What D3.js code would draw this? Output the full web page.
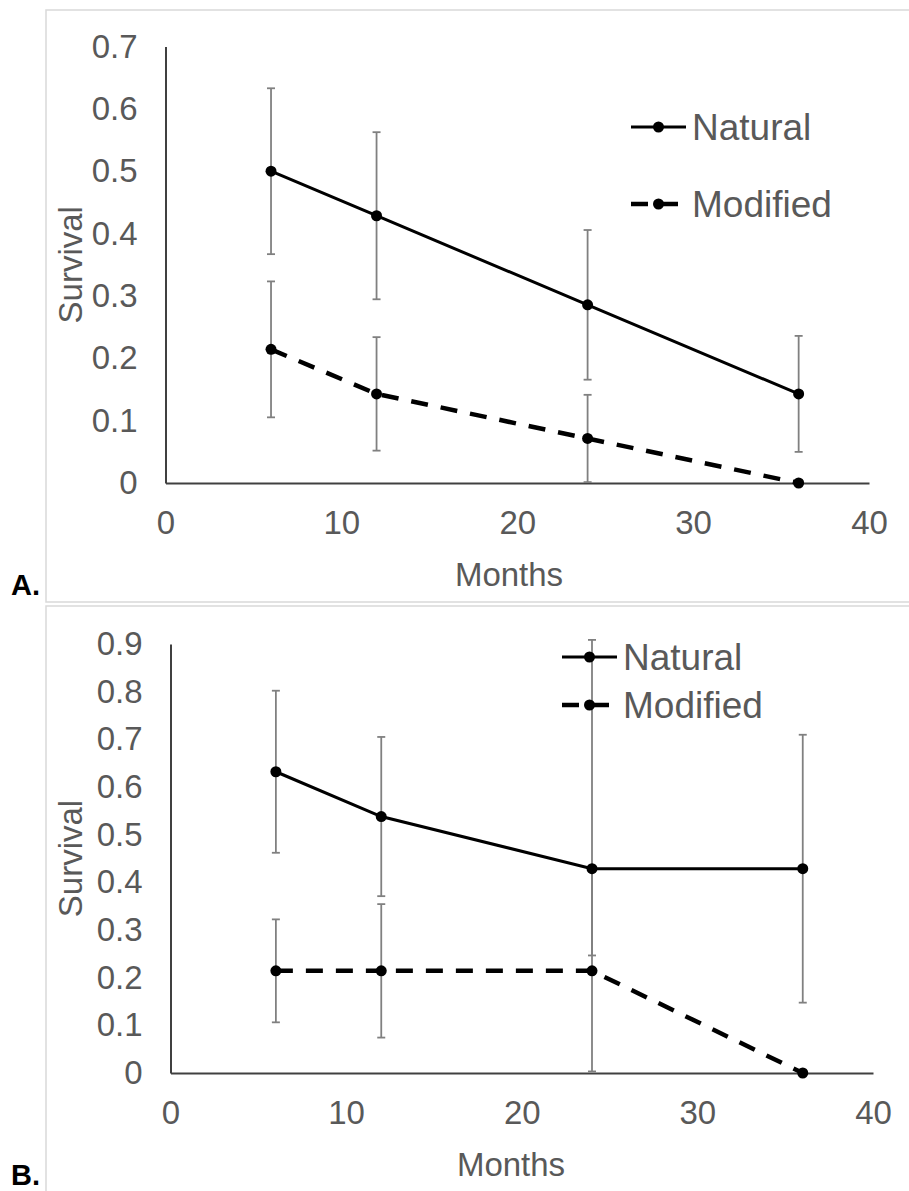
<!DOCTYPE html>
<html>
<head>
<meta charset="utf-8">
<script src="https://cdn.jsdelivr.net/npm/d3@7"></script>
<style>
  body { margin: 0; background: #fff; }
  svg { display: block; font-family: "Liberation Sans", Arial, sans-serif; }
</style>
</head>
<body>
<div class="svg-container"></div>
<script>
// months sampled
var months = [6, 12, 24, 36];

// panel A values and error bars (plus / minus)
var aNatural = [0.5, 0.4286, 0.2857, 0.1429];
var aNaturalUp = [0.133, 0.134, 0.12, 0.093];
var aNaturalDown = [0.133, 0.134, 0.12, 0.093];
var aModified = [0.2143, 0.1429, 0.0714, 0];
var aModifiedUp = [0.109, 0.091, 0.07, 0];
var aModifiedDown = [0.109, 0.091, 0.07, 0];

// panel B values and error bars (plus / minus)
var bNatural = [0.632, 0.538, 0.4286, 0.4286];
var bNaturalUp = [0.17, 0.167, 0.48, 0.281];
var bNaturalDown = [0.17, 0.167, 0.182, 0.281];
var bModified = [0.2143, 0.2143, 0.2143, 0];
var bModifiedUp = [0.108, 0.14, 0.211, 0];
var bModifiedDown = [0.108, 0.14, 0.211, 0];

var xTicks = [0, 10, 20, 30, 40];
var aYTicks = [0, 0.1, 0.2, 0.3, 0.4, 0.5, 0.6, 0.7];
var bYTicks = [0, 0.1, 0.2, 0.3, 0.4, 0.5, 0.6, 0.7, 0.8, 0.9];

var W = 909, H = 1191;
var textColor = "#595959";

var svg = d3.select(".svg-container").append("svg")
    .attr("width", W)
    .attr("height", H);

// panel frames
svg.append("rect")
    .attr("x", 46).attr("y", 10)
    .attr("width", W + 10).attr("height", 592)
    .attr("fill", "none").attr("stroke", "#d9d9d9").attr("stroke-width", 1.5);
svg.append("rect")
    .attr("x", 46).attr("y", 606)
    .attr("width", W + 10).attr("height", H)
    .attr("fill", "none").attr("stroke", "#d9d9d9").attr("stroke-width", 1.5);

function fmtY(d) {
    return d === 0 ? "0" : d3.format(".1f")(d);
}

function drawPanel(p) {
    var g = svg.append("g");

    var x = d3.scaleLinear().domain([0, 40]).range([p.left, p.right]);
    var y = d3.scaleLinear().domain([0, p.yMax]).range([p.bottom, p.top]);

    // y axis
    var ya = g.append("g")
        .attr("transform", "translate(" + p.left + ",0)")
        .call(d3.axisLeft(y).tickValues(p.yTicks).tickFormat(fmtY)
            .tickSize(0).tickSizeOuter(0).tickPadding(28));
    // x axis
    var xa = g.append("g")
        .attr("transform", "translate(0," + p.bottom + ")")
        .call(d3.axisBottom(x).tickValues(xTicks).tickFormat(d3.format("d"))
            .tickSize(0).tickSizeOuter(0).tickPadding(28));

    [ya, xa].forEach(function (a) {
        a.select(".domain").attr("stroke", "#404040").attr("stroke-width", 2);
        a.selectAll("text")
            .attr("fill", textColor)
            .style("font-size", "33px")
            .style("font-family", "'Liberation Sans', Arial, sans-serif");
    });

    // axis titles
    g.append("text")
        .attr("x", p.monthsX).attr("y", p.bottom + 103)
        .attr("text-anchor", "middle")
        .attr("fill", textColor)
        .style("font-size", "33px")
        .text("Months");

    g.append("text")
        .attr("transform", "translate(82," + ((p.top + p.bottom) / 2) + ") rotate(-90)")
        .attr("text-anchor", "middle")
        .attr("fill", textColor)
        .style("font-size", "33px")
        .text("Survival");

    var series = [
        {name: "Natural", values: p.natural, up: p.naturalUp, down: p.naturalDown, dash: null, width: 3},
        {name: "Modified", values: p.modified, up: p.modifiedUp, down: p.modifiedDown, dash: "17,13", width: 4.5}
    ];

    // error bars
    series.forEach(function (s) {
        var pts = months.map(function (m, i) {
            return {m: m, hi: s.values[i] + s.up[i], lo: Math.max(0, s.values[i] - s.down[i]), e: s.up[i] + s.down[i]};
        }).filter(function (d) { return d.e > 0; });

        var eb = g.append("g").attr("stroke", "#808080").attr("stroke-width", 1.8);
        eb.selectAll(".stem").data(pts).enter().append("line")
            .attr("x1", function (d) { return x(d.m); })
            .attr("x2", function (d) { return x(d.m); })
            .attr("y1", function (d) { return y(d.hi); })
            .attr("y2", function (d) { return y(d.lo); });
        ["hi", "lo"].forEach(function (k) {
            eb.selectAll(".cap-" + k).data(pts).enter().append("line")
                .attr("x1", function (d) { return x(d.m) - 4; })
                .attr("x2", function (d) { return x(d.m) + 4; })
                .attr("y1", function (d) { return y(d[k]); })
                .attr("y2", function (d) { return y(d[k]); });
        });
    });

    var line = d3.line()
        .x(function (d, i) { return x(months[i]); })
        .y(function (d) { return y(d); });

    series.forEach(function (s) {
        g.append("path")
            .attr("d", line(s.values))
            .attr("fill", "none")
            .attr("stroke", "#000")
            .attr("stroke-width", s.width)
            .attr("stroke-dasharray", s.dash);
        g.selectAll(null).data(s.values).enter().append("circle")
            .attr("cx", function (d, i) { return x(months[i]); })
            .attr("cy", function (d) { return y(d); })
            .attr("r", 5.5)
            .attr("fill", "#000");
    });

    // legend
    series.forEach(function (s, i) {
        var ly = p.legendY[i];
        g.append("line")
            .attr("x1", p.legendX).attr("x2", p.legendX + 55)
            .attr("y1", ly).attr("y2", ly)
            .attr("stroke", "#000")
            .attr("stroke-width", s.width)
            .attr("stroke-dasharray", s.dash);
        g.append("circle")
            .attr("cx", p.legendX + 27.5).attr("cy", ly)
            .attr("r", 5.5).attr("fill", "#000");
        g.append("text")
            .attr("x", p.legendX + 61).attr("y", ly + 13)
            .attr("fill", textColor)
            .style("font-size", "37px")
            .text(s.name);
    });

    svg.append("text")
        .attr("x", 11).attr("y", p.letterY)
        .attr("fill", "#000")
        .style("font-size", "29px")
        .style("font-weight", "bold")
        .text(p.letter);
}

drawPanel({
    letter: "A.", letterY: 595,
    left: 165.5, right: 869, top: 46.5, bottom: 483, yMax: 0.7, yTicks: aYTicks,
    natural: aNatural, naturalUp: aNaturalUp, naturalDown: aNaturalDown,
    modified: aModified, modifiedUp: aModifiedUp, modifiedDown: aModifiedDown,
    monthsX: 509, legendX: 631, legendY: [127, 204]
});

drawPanel({
    letter: "B.", letterY: 1185,
    left: 170.5, right: 873, top: 644, bottom: 1073, yMax: 0.9, yTicks: bYTicks,
    natural: bNatural, naturalUp: bNaturalUp, naturalDown: bNaturalDown,
    modified: bModified, modifiedUp: bModifiedUp, modifiedDown: bModifiedDown,
    monthsX: 511, legendX: 562, legendY: [657, 705]
});
</script>
</body>
</html>
